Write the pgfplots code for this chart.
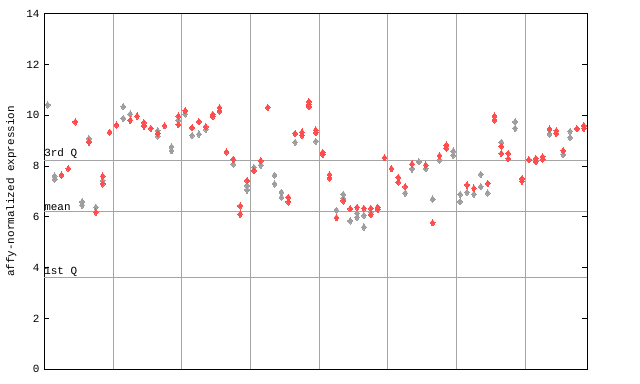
\documentclass[border=0pt]{standalone}
\usepackage{fontspec}
\setmainfont{Liberation Mono}
\usepackage{pgfplots}
\pgfplotsset{compat=1.18}
\definecolor{ptred}{RGB}{255,77,77}
\definecolor{ptgray}{RGB}{158,158,158}
\definecolor{gridgray}{RGB}{165,165,165}
\begin{document}
\fontsize{11}{13}\selectfont
\begin{tikzpicture}
\path[use as bounding box] (-44.3bp,-14.7bp) rectangle (595.7bp,369.3bp);
\begin{axis}[
  scale only axis,
  width=543bp, height=355.6bp,
  xmin=-0.5, xmax=78.5,
  ymin=0, ymax=14,
  ytick={0,2,...,14},
  xtick={9.5,19.5,...,69.5},
  xticklabels={},
  xtick style={draw=none},
  xmajorgrids=true,
  major grid style={color=gridgray, line width=1bp},
  ytick pos=both,
  tick align=inside,
  major tick length=5bp,
  tick style={black, line width=0.8bp},
  axis line style={black, line width=0.9bp},
  extra y ticks={3.62,6.22,8.24},
  extra y tick labels={},
  extra y tick style={grid=major, major tick length=0pt},
  /pgf/number format/assume math mode=true,
  yticklabel style={font=\fontsize{11}{13}\selectfont, xshift=-1bp},
  ylabel={affy-normalized expression},
  ylabel style={at={(axis description cs:-0.0608,0.5)}, anchor=center, rotate=0, font=\fontsize{11}{13}\selectfont},
  clip=false,
]
\addplot[only marks, mark=diamond*, mark size=3.2bp, color=ptgray, mark options={draw=ptgray, fill=ptgray, line width=0pt}] coordinates {
(0,10.41) (1,7.61) (1,7.48) (5,6.59) (5,6.46) (6,9.08) (7,6.38) (8,7.43) (11,10.34) (11,9.88) (12,10.05) (16,9.39) (16,9.18) (18,8.76) (18,8.61) (19,9.81) (20,10.05) (21,9.21) (22,9.26) (23,9.45) (27,8.08) (29,7.23) (29,7.06) (30,7.95) (31,8.04) (33,7.64) (33,7.30) (34,6.97) (34,6.77) (36,8.94) (39,8.98) (42,6.26) (43,6.89) (43,6.73) (44,5.84) (45,6.15) (45,5.98) (46,6.06) (46,5.60) (47,6.19) (52,6.94) (53,7.89) (54,8.17) (55,7.90) (56,6.70) (57,8.24) (59,8.59) (59,8.43) (60,6.89) (60,6.60) (61,6.97) (62,6.90) (63,7.68) (63,7.19) (64,6.94) (66,8.94) (68,9.74) (68,9.49) (73,9.26) (75,8.45) (76,9.37) (76,9.13)
};
\addplot[only marks, mark=diamond*, mark size=3.2bp, color=ptred, mark options={draw=ptred, fill=ptred, line width=0pt}] coordinates {
(2,7.65) (3,7.90) (4,9.74) (6,8.95) (7,6.19) (8,7.61) (8,7.30) (9,9.33) (10,9.62) (12,9.81) (13,9.97) (14,9.71) (14,9.58) (15,9.49) (16,9.29) (17,9.59) (19,9.97) (19,9.64) (20,10.18) (21,9.51) (22,9.75) (23,9.55) (24,10.04) (24,9.95) (25,10.30) (25,10.17) (26,8.56) (27,8.27) (28,6.43) (28,6.11) (29,7.43) (30,7.82) (31,8.21) (32,10.31) (35,6.77) (35,6.59) (36,9.28) (37,9.34) (37,9.21) (38,10.54) (38,10.43) (38,10.34) (39,9.42) (39,9.32) (40,8.54) (40,8.46) (41,7.66) (41,7.53) (42,5.97) (43,6.63) (44,6.32) (45,6.38) (46,6.34) (47,6.34) (47,6.09) (48,6.38) (48,6.30) (49,8.33) (50,7.90) (51,7.56) (51,7.37) (52,7.19) (53,8.08) (55,8.04) (56,5.77) (57,8.41) (58,8.83) (58,8.70) (61,7.26) (62,7.13) (64,7.32) (65,9.97) (65,9.81) (66,8.78) (66,8.50) (67,8.50) (67,8.29) (69,7.50) (69,7.41) (70,8.25) (71,8.30) (71,8.17) (72,8.37) (72,8.27) (73,9.46) (74,9.39) (74,9.29) (75,8.61) (77,9.47) (78,9.59) (78,9.49)
};
\node[anchor=south west, inner sep=0pt, outer sep=0pt, yshift=1bp, font=\fontsize{11}{13}\selectfont] at (axis cs:-0.5,8.24) {3rd Q};
\node[anchor=south west, inner sep=0pt, outer sep=0pt, yshift=1bp, font=\fontsize{11}{13}\selectfont] at (axis cs:-0.5,6.22) {mean};
\node[anchor=south west, inner sep=0pt, outer sep=0pt, yshift=1bp, font=\fontsize{11}{13}\selectfont] at (axis cs:-0.5,3.62) {1st Q};
\end{axis}
\end{tikzpicture}
\end{document}
